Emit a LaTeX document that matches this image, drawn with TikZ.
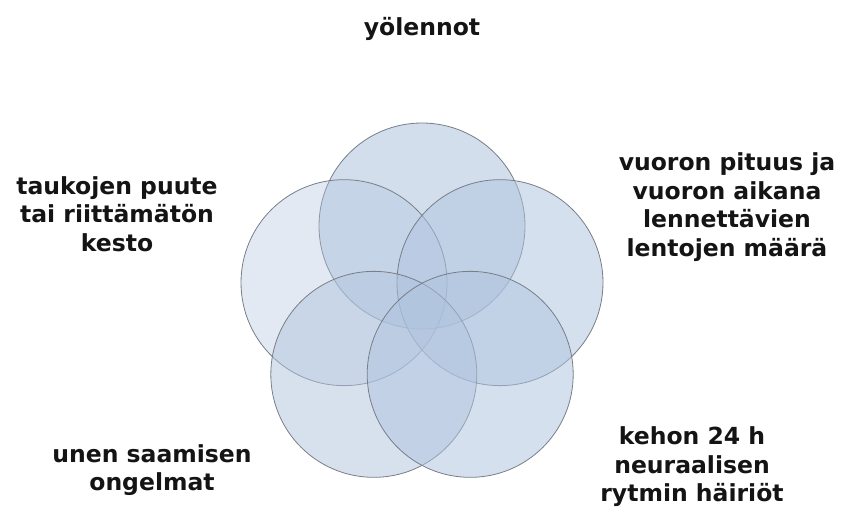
\documentclass[tikz,border=0pt]{standalone}
\usepackage{fontspec}
\setmainfont{DejaVu Sans}
\usepackage{xcolor}
\usepackage{tikz}
\usetikzlibrary{
	positioning    % Per posizionare i nodi
}

\definecolor{venn}{RGB}{175,195,222}
\definecolor{bordo}{RGB}{120,126,135}
\definecolor{testo}{RGB}{20,20,20}

\begin{document}
\begin{tikzpicture}[
		x=1pt, y=-1pt,
		cerchio/.style={circle, minimum size=206pt, inner sep=0pt, fill=venn, draw=bordo, line width=0.8pt},
		etichetta/.style={align=center, font=\bfseries\fontsize{23.5}{28.5}\selectfont, text=testo}
	]
	
	% --- Area del disegno ---
	\useasboundingbox (0,0) rectangle (843,513);
	
	% --- Centro del diagramma ---
	\coordinate (C) at (422,308);
	
	% --- Cerchi (Venn a cinque insiemi), angoli con asse y verso il basso ---
	\foreach \ang/\nome/\op in {270/notte/0.55, 198/pause/0.36, 342/turno/0.52, 126/sonno/0.50, 54/ritmo/0.52}
		\node[cerchio, fill opacity=\op] (\nome) at ([shift={(\ang:82)}]C) {};
	
	% --- Etichette ---
	\node[etichetta] (lnotte) at (422,29) {yölennot};
	\node[etichetta] (lpause) at (117,214) {taukojen puute\\tai riittämätön\\kesto};
	\node[etichetta] (lturno) at (727,207) {vuoron pituus ja\\vuoron aikana\\lennettävien\\lentojen määrä};
	\node[etichetta] (lsonno) at (152,470) {unen saamisen\\ongelmat};
	\node[etichetta] (lritmo) at (692,467) {kehon 24 h\\neuraalisen\\rytmin häiriöt};
\end{tikzpicture}
\end{document}
